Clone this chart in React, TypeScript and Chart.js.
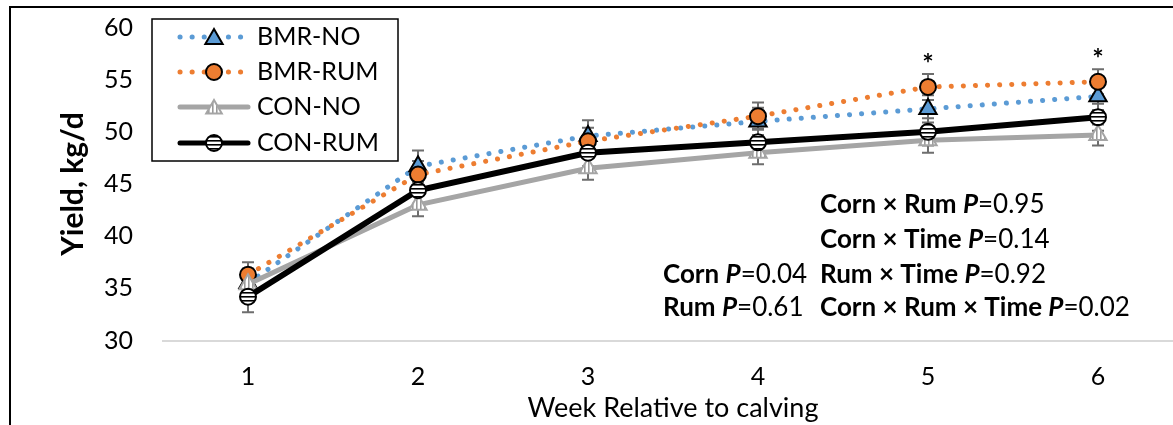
import React, { useEffect, useRef } from 'react';
import { Chart, registerables } from 'chart.js';

Chart.register(...registerables);

const weeks = ['1', '2', '3', '4', '5', '6'];
const seriesNames = ['BMR-NO', 'BMR-RUM', 'CON-NO', 'CON-RUM'];
const bmrNo = [35.5, 46.7, 49.6, 51.0, 52.2, 53.4];
const bmrRum = [36.3, 45.9, 49.1, 51.5, 54.3, 54.8];
const conNo = [35.4, 43.0, 46.5, 48.0, 49.2, 49.7];
const conRum = [34.2, 44.4, 48.0, 49.0, 50.0, 51.4];
const bmrNoSem = [1.4, 1.5, 1.5, 1.3, 1.3, 1.3];
const bmrRumSem = [1.2, 1.3, 1.3, 1.3, 1.25, 1.2];
const conNoSem = [1.2, 1.1, 1.1, 1.1, 1.2, 1.0];
const conRumSem = [1.5, 1.3, 1.3, 1.3, 1.3, 1.3];
const starWeeks = ['5', '6'];
const yTicks = [30, 35, 40, 45, 50, 55, 60];
const statsLeft = [
  [['Corn ', 'b'], ['P', 'bi'], ['=0.04', 'n']],
  [['Rum ', 'b'], ['P', 'bi'], ['=0.61', 'n']],
];
const statsRight = [
  [['Corn × Rum ', 'b'], ['P', 'bi'], ['=0.95', 'n']],
  [['Corn × Time ', 'b'], ['P', 'bi'], ['=0.14', 'n']],
  [['Rum × Time ', 'b'], ['P', 'bi'], ['=0.92', 'n']],
  [['Corn × Rum × Time ', 'b'], ['P', 'bi'], ['=0.02', 'n']],
];

const FONT = 'Lato, "Open Sans", sans-serif';
const BLUE = '#5B9BD5';
const ORANGE = '#ED7D31';
const GREY = '#A5A5A5';
const AREA_TOP = 27.5;
const AREA_BOTTOM = 340.5;

function makePattern(bg: string, fg: string, vertical: boolean) {
  const c = document.createElement('canvas');
  c.width = 4;
  c.height = 4;
  const g = c.getContext('2d')!;
  g.fillStyle = bg;
  g.fillRect(0, 0, 4, 4);
  g.fillStyle = fg;
  if (vertical) g.fillRect(0, 0, 1.6, 4);
  else g.fillRect(0, 0, 4, 1.6);
  return g.createPattern(c, 'repeat')!;
}

function drawRich(ctx: CanvasRenderingContext2D, parts: any[], x: number, y: number, size: number) {
  let cx = x;
  ctx.textBaseline = 'middle';
  ctx.textAlign = 'left';
  ctx.fillStyle = '#000';
  for (const [t, s] of parts) {
    const w = s === 'n' ? 'normal' : 'bold';
    const st = s === 'bi' ? 'italic' : 'normal';
    ctx.font = `${st} ${w} ${size}px ${FONT}`;
    ctx.fillText(t, cx, y);
    cx += ctx.measureText(t).width;
  }
}

function drawMarker(ctx: CanvasRenderingContext2D, style: string, x: number, y: number, r: number, fill: any, stroke: string, bw: number) {
  ctx.beginPath();
  if (style === 'circle') {
    ctx.arc(x, y, r, 0, Math.PI * 2);
  } else {
    ctx.moveTo(x, y - r);
    ctx.lineTo(x + r * Math.sin((2 * Math.PI) / 3), y - r * Math.cos((2 * Math.PI) / 3));
    ctx.lineTo(x + r * Math.sin((4 * Math.PI) / 3), y - r * Math.cos((4 * Math.PI) / 3));
    ctx.closePath();
  }
  ctx.fillStyle = fill;
  ctx.fill();
  ctx.lineWidth = bw;
  ctx.strokeStyle = stroke;
  ctx.stroke();
}

export default function App() {
  const ref = useRef<HTMLCanvasElement>(null);

  useEffect(() => {
    const canvas = ref.current!;
    const hStripe = makePattern('#ffffff', '#000000', false);
    const vStripe = makePattern('#ffffff', '#9a9a9a', true);

    const sems = [bmrNoSem, bmrRumSem, conNoSem, conRumSem];
    const legendDefs = [
      { color: BLUE, dotted: true, width: 5, marker: 'triangle', r: 10, fill: BLUE, stroke: '#000' },
      { color: ORANGE, dotted: true, width: 5, marker: 'circle', r: 8, fill: ORANGE, stroke: '#000' },
      { color: GREY, dotted: false, width: 5, marker: 'triangle', r: 9, fill: vStripe, stroke: GREY },
      { color: '#000', dotted: false, width: 5, marker: 'circle', r: 8, fill: hStripe, stroke: '#000' },
    ];

    const plugin = {
      id: 'custom',
      afterLayout(chart: any) {
        const y = chart.scales.y;
        y.top = AREA_TOP;
        y.bottom = AREA_BOTTOM;
        y.height = AREA_BOTTOM - AREA_TOP;
        y.configure();
        chart.chartArea.top = AREA_TOP;
        chart.chartArea.bottom = AREA_BOTTOM;
        chart.chartArea.height = AREA_BOTTOM - AREA_TOP;
      },
      beforeDraw(chart: any) {
        const ctx = chart.ctx;
        ctx.save();
        ctx.fillStyle = '#fff';
        ctx.fillRect(0, 0, chart.width, chart.height);
        ctx.strokeStyle = '#000';
        ctx.lineWidth = 2;
        ctx.beginPath();
        ctx.moveTo(10, chart.height);
        ctx.lineTo(10, 7);
        ctx.lineTo(chart.width, 7);
        ctx.stroke();
        ctx.restore();
      },
      beforeDatasetsDraw(chart: any) {
        const ctx = chart.ctx;
        const xs = chart.scales.x;
        const ys = chart.scales.y;
        ctx.save();
        ctx.strokeStyle = '#6e6e6e';
        ctx.lineWidth = 2;
        chart.data.datasets.forEach((ds: any, di: number) => {
          ds.data.forEach((v: number, i: number) => {
            const x = xs.getPixelForValue(i);
            const y1 = ys.getPixelForValue(v + sems[di][i]);
            const y2 = ys.getPixelForValue(v - sems[di][i]);
            ctx.beginPath();
            ctx.moveTo(x, y1);
            ctx.lineTo(x, y2);
            ctx.moveTo(x - 6, y1);
            ctx.lineTo(x + 6, y1);
            ctx.moveTo(x - 6, y2);
            ctx.lineTo(x + 6, y2);
            ctx.stroke();
          });
        });
        ctx.restore();
      },
      afterDraw(chart: any) {
        const ctx = chart.ctx;
        const xs = chart.scales.x;
        const ys = chart.scales.y;
        ctx.save();
        // legend box
        ctx.strokeStyle = '#000';
        ctx.lineWidth = 1.5;
        ctx.strokeRect(152, 19, 246, 142);
        const rows = [37, 72, 107, 143];
        legendDefs.forEach((d, i) => {
          const y = rows[i];
          ctx.save();
          ctx.strokeStyle = d.color;
          ctx.lineWidth = d.width;
          if (d.dotted) ctx.setLineDash([0.1, 12]);
          ctx.lineCap = 'round';
          ctx.beginPath();
          ctx.moveTo(180, y);
          ctx.lineTo(248, y);
          ctx.stroke();
          ctx.restore();
          drawMarker(ctx, d.marker, 214, y + (d.marker === 'triangle' ? 2 : 0), d.r, d.fill, d.stroke, 2);
          ctx.fillStyle = '#000';
          ctx.font = `normal 25px ${FONT}`;
          ctx.textBaseline = 'middle';
          ctx.textAlign = 'left';
          ctx.fillText(seriesNames[i], 257, y);
        });
        // stars
        ctx.font = `bold 27px ${FONT}`;
        ctx.textAlign = 'center';
        ctx.textBaseline = 'middle';
        starWeeks.forEach((w) => {
          const i = weeks.indexOf(w);
          let top = -Infinity;
          chart.data.datasets.forEach((ds: any, di: number) => {
            top = Math.max(top, ds.data[i] + sems[di][i]);
          });
          const x = xs.getPixelForValue(i);
          const y = ys.getPixelForValue(top) - 10;
          ctx.fillText('*', x, y);
        });
        // stats
        statsRight.forEach((p, i) => drawRich(ctx, p, 820, [205, 240, 275, 308][i], 26));
        statsLeft.forEach((p, i) => drawRich(ctx, p, 663, [275, 308][i], 26));
        ctx.restore();
      },
    };

    const chart = new Chart(canvas, {
      type: 'line',
      data: {
        labels: weeks,
        datasets: [
          {
            label: seriesNames[0],
            data: bmrNo,
            borderColor: BLUE,
            borderWidth: 5,
            borderDash: [0.1, 12],
            borderCapStyle: 'round',
            pointStyle: 'triangle',
            pointRadius: 10,
            pointBackgroundColor: BLUE,
            pointBorderColor: '#000',
            pointBorderWidth: 2,
            order: 3,
          },
          {
            label: seriesNames[1],
            data: bmrRum,
            borderColor: ORANGE,
            borderWidth: 5,
            borderDash: [0.1, 12],
            borderCapStyle: 'round',
            pointStyle: 'circle',
            pointRadius: 8,
            pointBackgroundColor: ORANGE,
            pointBorderColor: '#000',
            pointBorderWidth: 2,
            order: 2,
          },
          {
            label: seriesNames[2],
            data: conNo,
            borderColor: GREY,
            borderWidth: 5,
            pointStyle: 'triangle',
            pointRadius: 10,
            pointBackgroundColor: vStripe,
            pointBorderColor: GREY,
            pointBorderWidth: 2,
            order: 1,
          },
          {
            label: seriesNames[3],
            data: conRum,
            borderColor: '#000',
            borderWidth: 6,
            pointStyle: 'circle',
            pointRadius: 8,
            pointBackgroundColor: hStripe,
            pointBorderColor: '#000',
            pointBorderWidth: 2,
            order: 0,
          },
        ] as any,
      },
      options: {
        animation: false,
        responsive: false,
        devicePixelRatio: 1,
        layout: { padding: { top: 12, right: 17, left: 0, bottom: 0 } },
        plugins: { legend: { display: false }, tooltip: { enabled: false } },
        scales: {
          x: {
            type: 'category',
            offset: true,
            grid: { display: false, drawTicks: false },
            border: { display: true, color: '#d9d9d9', width: 2 },
            ticks: { color: '#000', font: { family: FONT, size: 25 }, padding: 21 },
            title: {
              display: true,
              text: 'Week Relative to calving',
              color: '#000',
              font: { family: FONT, size: 27 },
              padding: { top: 0, bottom: 1 },
            },
            afterFit: (s: any) => {
              s.height = 84.5;
            },
          },
          y: {
            min: 30,
            max: 60,
            afterBuildTicks: (s: any) => {
              s.ticks = yTicks.map((v) => ({ value: v }));
            },
            grid: { display: false, drawTicks: false },
            border: { display: false },
            ticks: { color: '#000', font: { family: FONT, size: 25 }, padding: 30 },
            title: {
              display: true,
              text: 'Yield, kg/d',
              color: '#000',
              font: { family: FONT, size: 30, weight: 'bold' },
              padding: { top: 55, bottom: 0 },
            },
            afterFit: (s: any) => {
              s.width = 163;
            },
          },
        },
      } as any,
      plugins: [plugin],
    });
    return () => chart.destroy();
  }, []);

  return (
    <div style={{ position: 'fixed', left: 0, top: 0, width: 1173, height: 425, overflow: 'hidden', background: '#fff' }}>
      <canvas ref={ref} width={1200} height={425} style={{ display: 'block' }} />
    </div>
  );
}
